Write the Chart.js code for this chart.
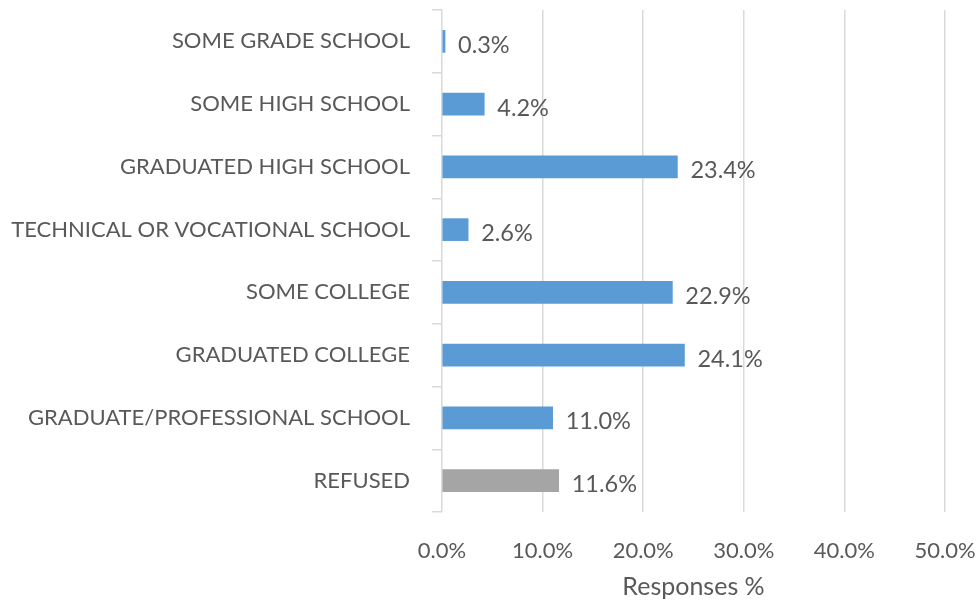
<!DOCTYPE html>
<html>
<head>
<meta charset="utf-8">
<script src="https://cdn.jsdelivr.net/npm/chart.js@4"></script>
<style>
  html, body { margin: 0; padding: 0; background: #fff; }
  #wrap { width: 979px; height: 602px; }
</style>
</head>
<body>
<div id="wrap"><canvas id="grafico"></canvas></div>
<script>
const categories = [
  'SOME GRADE SCHOOL',
  'SOME HIGH SCHOOL',
  'GRADUATED HIGH SCHOOL',
  'TECHNICAL OR VOCATIONAL SCHOOL',
  'SOME COLLEGE',
  'GRADUATED COLLEGE',
  'GRADUATE/PROFESSIONAL SCHOOL',
  'REFUSED'
];
const responses = [0.3, 4.2, 23.4, 2.6, 22.9, 24.1, 11.0, 11.6];
const barColors = ['#5B9BD5', '#5B9BD5', '#5B9BD5', '#5B9BD5', '#5B9BD5', '#5B9BD5', '#5B9BD5', '#A5A5A5'];

const textColor = '#595959';
const fontFamily = 'Lato, "Open Sans", sans-serif';

// labels at the end of each bar
const barLabels = {
  id: 'barLabels',
  afterDatasetsDraw(chart) {
    const ctx = chart.ctx;
    const meta = chart.getDatasetMeta(0);
    ctx.save();
    ctx.font = '23.5px ' + fontFamily;
    ctx.fillStyle = textColor;
    ctx.textAlign = 'left';
    ctx.textBaseline = 'middle';
    meta.data.forEach((bar, i) => {
      ctx.fillText(responses[i].toFixed(1) + '%', bar.x + 13, bar.y + 4);
    });
    ctx.restore();
  }
};

const Grafico = document.getElementById('grafico');
const myChart = new Chart(Grafico, {
  type: 'bar',
  data: {
    labels: categories,
    datasets: [{
      label: 'Responses %',
      data: responses,
      backgroundColor: barColors,
      borderWidth: 0,
      barThickness: 22
    }]
  },
  options: {
    indexAxis: 'y',
    responsive: true,
    maintainAspectRatio: false,
    animation: false,
    layout: { padding: { top: 10, right: 34, bottom: 0, left: 0 } },
    plugins: {
      legend: { display: false },
      tooltip: { enabled: false }
    },
    scales: {
      x: {
        min: 0,
        max: 50,
        afterFit(scale) { scale.height = 90; scale.paddingLeft = 0; scale.paddingRight = 0; },
        ticks: {
          stepSize: 10,
          color: textColor,
          font: { size: 22, family: fontFamily },
          padding: 26,
          callback: v => v.toFixed(1) + '%'
        },
        grid: {
          color: ctx => ctx.tick && ctx.tick.value === 0 ? 'rgba(0,0,0,0)' : '#D9D9D9',
          lineWidth: 1.5,
          drawTicks: false
        },
        border: { display: false },
        title: {
          display: true,
          text: 'Responses %',
          color: textColor,
          font: { size: 25, family: fontFamily },
          padding: { top: 4, bottom: 0 }
        }
      },
      y: {
        afterFit(scale) { scale.width = 442; scale.paddingTop = 0; scale.paddingBottom = 0; },
        ticks: {
          color: textColor,
          font: { size: 22, family: fontFamily },
          padding: 22
        },
        grid: {
          offset: true,
          drawOnChartArea: false,
          color: '#D9D9D9',
          lineWidth: 1.5,
          tickLength: 10
        },
        border: { display: true, color: '#D9D9D9', width: 1.5 }
      }
    }
  },
  plugins: [barLabels]
});
</script>
</body>
</html>
